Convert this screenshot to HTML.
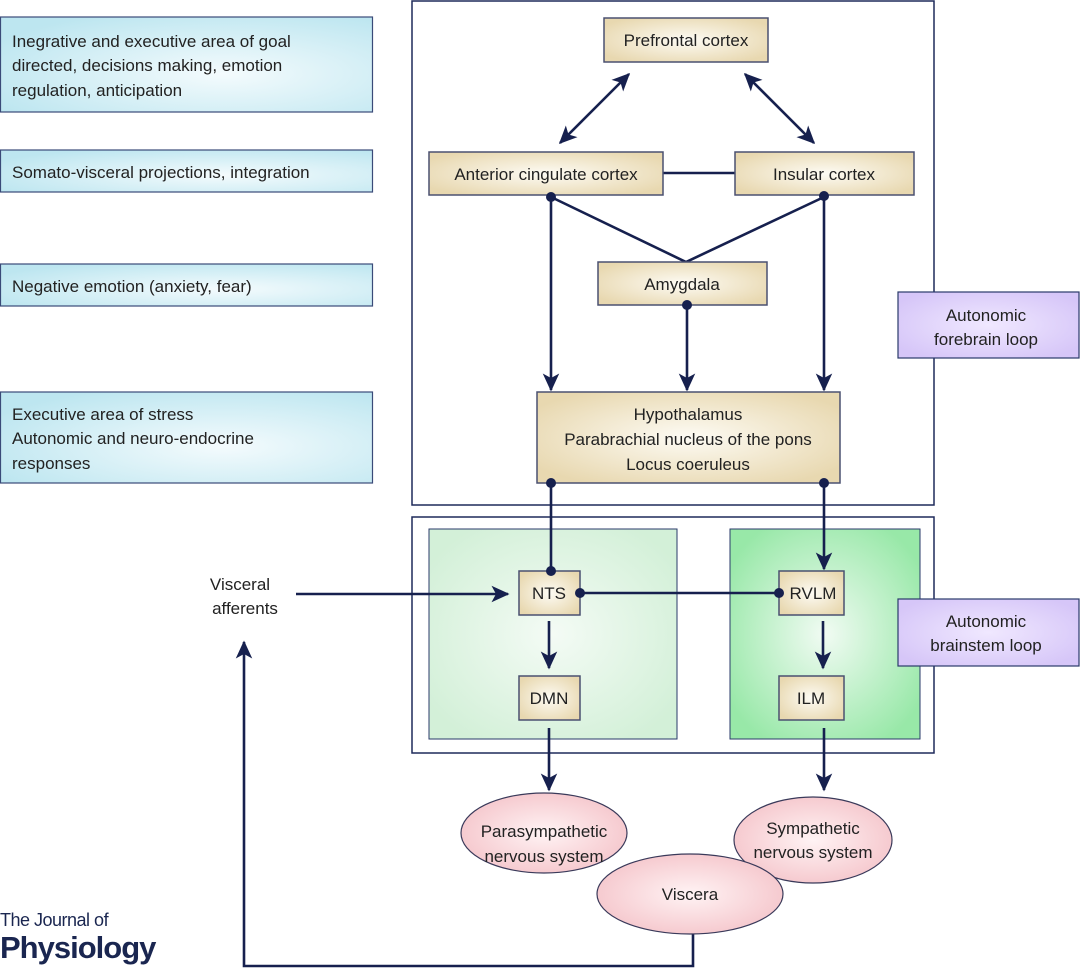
<!DOCTYPE html>
<html><head><meta charset="utf-8"><style>
html,body{margin:0;padding:0;background:#fff;}
svg{display:block;font-family:"Liberation Sans",sans-serif;}
</style></head><body>
<svg width="1080" height="968" viewBox="0 0 1080 968" xmlns="http://www.w3.org/2000/svg">
<defs>
<radialGradient id="tan" cx="50%" cy="50%" r="60%"><stop offset="0" stop-color="#fdfbf4"/><stop offset="1" stop-color="#e8d8b0"/></radialGradient>
<radialGradient id="blue" cx="60%" cy="60%" r="70%"><stop offset="0" stop-color="#f4fbfd"/><stop offset="1" stop-color="#bde6f0"/></radialGradient>
<radialGradient id="g1" cx="50%" cy="50%" r="60%"><stop offset="0" stop-color="#f4fbf5"/><stop offset="1" stop-color="#d3f0d8"/></radialGradient>
<radialGradient id="g2" cx="50%" cy="50%" r="60%"><stop offset="0" stop-color="#f1fbf3"/><stop offset="1" stop-color="#98e8a8"/></radialGradient>
<radialGradient id="pur" cx="50%" cy="50%" r="60%"><stop offset="0" stop-color="#f0e8ff"/><stop offset="1" stop-color="#d6c6f8"/></radialGradient>
<radialGradient id="pink" cx="50%" cy="50%" r="60%"><stop offset="0" stop-color="#fff3f4"/><stop offset="1" stop-color="#f4c2c8"/></radialGradient>
<marker id="ah" viewBox="0 0 12 12" refX="11" refY="6" markerWidth="18" markerHeight="18" markerUnits="userSpaceOnUse" orient="auto-start-reverse"><path d="M0,0.5 L12,6 L0,11.5 L3,6 Z" fill="#16204e"/></marker>
</defs>
<g stroke="#3a4a78" stroke-width="1.2">
<rect x="0.5" y="17" width="372" height="95" fill="url(#blue)"/>
<rect x="0.5" y="150" width="372" height="42" fill="url(#blue)"/>
<rect x="0.5" y="264" width="372" height="42" fill="url(#blue)"/>
<rect x="0.5" y="392" width="372" height="91" fill="url(#blue)"/>
</g>
<g font-size="17" fill="#222">
<text x="12" y="47">Inegrative and executive area of goal</text>
<text x="12" y="71">directed, decisions making, emotion</text>
<text x="12" y="96">regulation, anticipation</text>
<text x="12" y="178">Somato-visceral projections, integration</text>
<text x="12" y="292">Negative emotion (anxiety, fear)</text>
<text x="12" y="420">Executive area of stress</text>
<text x="12" y="444">Autonomic and neuro-endocrine</text>
<text x="12" y="469">responses</text>
</g>
<g fill="none" stroke="#1e2a5a" stroke-width="1.5">
<rect x="412" y="1" width="522" height="504"/>
<rect x="412" y="517" width="522" height="236"/>
</g>
<rect x="429" y="529" width="248" height="210" fill="url(#g1)" stroke="#2a3a6a" stroke-width="1"/>
<rect x="730" y="529" width="190" height="210" fill="url(#g2)" stroke="#2a3a6a" stroke-width="1"/>
<g stroke="#2a3a6a" stroke-width="1.2">
<rect x="898" y="292" width="181" height="66" fill="url(#pur)"/>
<rect x="898" y="599" width="181" height="67" fill="url(#pur)"/>
</g>
<g font-size="17" fill="#222" text-anchor="middle">
<text x="986" y="321">Autonomic</text><text x="986" y="345">forebrain loop</text>
<text x="986" y="627">Autonomic</text><text x="986" y="651">brainstem loop</text>
</g>
<g stroke="#16204e" stroke-width="2.6" fill="none">
<line x1="663" y1="173" x2="735" y2="173"/>
<line x1="560" y1="143" x2="629" y2="74" marker-start="url(#ah)" marker-end="url(#ah)"/>
<line x1="745" y1="74" x2="814" y2="143" marker-start="url(#ah)" marker-end="url(#ah)"/>
<polyline points="551,197 686,262 824,197"/>
<line x1="551" y1="197" x2="551" y2="390" marker-end="url(#ah)"/>
<line x1="687" y1="305" x2="687" y2="390" marker-end="url(#ah)"/>
<line x1="824" y1="197" x2="824" y2="390" marker-end="url(#ah)"/>
<line x1="551" y1="483" x2="551" y2="571"/>
<line x1="824" y1="483" x2="824" y2="569" marker-end="url(#ah)"/>
<line x1="580" y1="593" x2="792" y2="593"/>
<line x1="296" y1="594" x2="508" y2="594" marker-end="url(#ah)"/>
<line x1="549" y1="621" x2="549" y2="668" marker-end="url(#ah)"/>
<line x1="823" y1="621" x2="823" y2="668" marker-end="url(#ah)"/>
<line x1="549" y1="728" x2="549" y2="790" marker-end="url(#ah)"/>
<line x1="824" y1="728" x2="824" y2="790" marker-end="url(#ah)"/>
<polyline points="693,933 693,966 244,966 244,642" marker-end="url(#ah)"/>
</g>
<g stroke="#4a5070" stroke-width="1.5">
<rect x="604" y="18" width="164" height="44" fill="url(#tan)"/>
<rect x="429" y="152" width="234" height="43" fill="url(#tan)"/>
<rect x="735" y="152" width="179" height="43" fill="url(#tan)"/>
<rect x="598" y="262" width="169" height="43" fill="url(#tan)"/>
<rect x="537" y="392" width="303" height="91" fill="url(#tan)"/>
<rect x="519" y="571" width="61" height="44" fill="url(#tan)"/>
<rect x="779" y="571" width="65" height="44" fill="url(#tan)"/>
<rect x="519" y="676" width="61" height="44" fill="url(#tan)"/>
<rect x="779" y="676" width="65" height="44" fill="url(#tan)"/>
</g>
<g fill="#16204e">
<circle cx="551" cy="197" r="5"/><circle cx="824" cy="196" r="5"/>
<circle cx="687" cy="305" r="5"/>
<circle cx="551" cy="483" r="5"/><circle cx="824" cy="483" r="5"/>
<circle cx="551" cy="571" r="5"/><circle cx="580" cy="593" r="5"/><circle cx="779" cy="593" r="5"/>
</g>
<g font-size="17" fill="#222" text-anchor="middle">
<text x="686" y="46">Prefrontal cortex</text>
<text x="546" y="180">Anterior cingulate cortex</text>
<text x="824" y="180">Insular cortex</text>
<text x="682" y="290">Amygdala</text>
<text x="688" y="420">Hypothalamus</text>
<text x="688" y="445">Parabrachial nucleus of the pons</text>
<text x="688" y="470">Locus coeruleus</text>
<text x="549" y="599">NTS</text>
<text x="813" y="599">RVLM</text>
<text x="549" y="704">DMN</text>
<text x="811" y="704">ILM</text>
<text x="240" y="590">Visceral</text>
<text x="245" y="614">afferents</text>
</g>
<g stroke="#3a3a5a" stroke-width="1.2">
<ellipse cx="544" cy="833" rx="83" ry="40" fill="url(#pink)"/>
<ellipse cx="813" cy="840" rx="79" ry="43" fill="url(#pink)"/>
<ellipse cx="690" cy="894" rx="93" ry="40" fill="url(#pink)"/>
</g>
<g font-size="17" fill="#222" text-anchor="middle">
<text x="544" y="837">Parasympathetic</text>
<text x="544" y="862">nervous system</text>
<text x="813" y="834">Sympathetic</text>
<text x="813" y="858">nervous system</text>
<text x="690" y="900">Viscera</text>
</g>
<text x="0" y="926" font-size="18" fill="#1a2650" letter-spacing="-0.5">The Journal of</text>
<text x="0" y="958" font-size="31" font-weight="bold" fill="#1a2650" letter-spacing="-1">Physiology</text>
</svg>
</body></html>
